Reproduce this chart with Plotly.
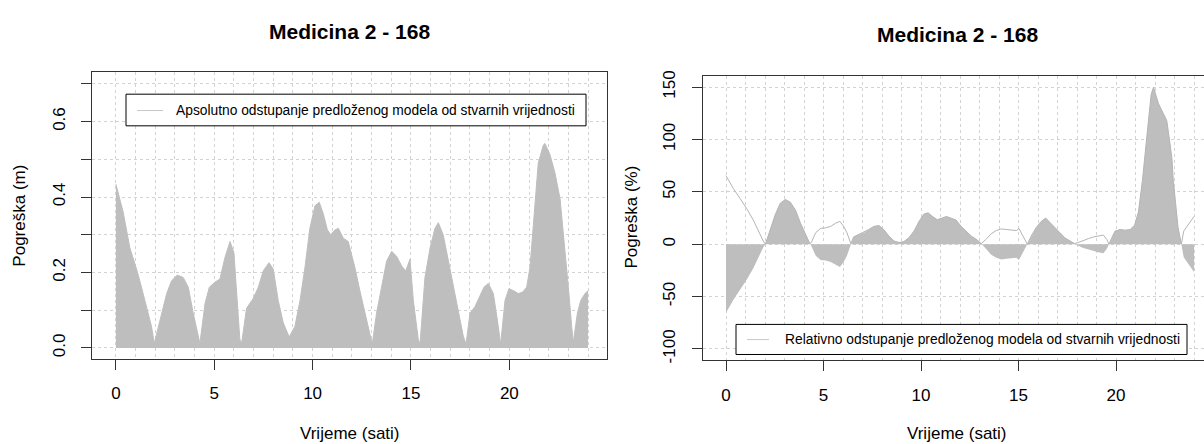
import plotly.graph_objects as go

W, H = 1204, 444

# ---------------- data ----------------
hours_abs = [0.0, 0.37, 0.71, 1.05, 1.3, 1.56, 1.81, 1.95, 2.24, 2.58, 2.83, 3.12, 3.42, 3.68,
             3.93, 4.19, 4.27, 4.53, 4.75, 5.03, 5.29, 5.54, 5.8, 6.0, 6.14, 6.3, 6.39, 6.64,
             6.98, 7.24, 7.49, 7.78, 8.0, 8.25, 8.51, 8.81, 9.1, 9.36, 9.61, 9.86, 10.12,
             10.34, 10.54, 10.75, 10.92, 11.14, 11.31, 11.56, 11.81, 12.15, 12.4, 12.66,
             12.92, 13.03, 13.25, 13.5, 13.76, 14.02, 14.27, 14.53, 14.73, 14.95, 15.12,
             15.37, 15.46, 15.71, 15.97, 16.22, 16.39, 16.64, 16.9, 17.15, 17.41, 17.66,
             17.8, 18.0, 18.25, 18.5, 18.71, 18.93, 19.19, 19.39, 19.56, 19.78, 19.98, 20.2,
             20.46, 20.68, 20.88, 21.05, 21.22, 21.47, 21.73, 21.81, 22.07, 22.32, 22.58,
             22.78, 23.0, 23.17, 23.25, 23.46, 23.63, 23.85, 24.0]
abs_err = [0.434, 0.36, 0.265, 0.209, 0.161, 0.109, 0.057, 0.012, 0.074, 0.144, 0.178, 0.193,
           0.187, 0.161, 0.092, 0.031, 0.012, 0.118, 0.161, 0.174, 0.183, 0.239, 0.282, 0.252,
           0.144, 0.023, 0.012, 0.105, 0.131, 0.161, 0.204, 0.226, 0.209, 0.126, 0.066, 0.029,
           0.057, 0.126, 0.213, 0.317, 0.377, 0.386, 0.356, 0.313, 0.300, 0.313, 0.317, 0.291,
           0.282, 0.213, 0.152, 0.092, 0.031, 0.010, 0.092, 0.161, 0.230, 0.256, 0.243, 0.217,
           0.204, 0.235, 0.126, 0.023, 0.010, 0.187, 0.265, 0.317, 0.332, 0.300, 0.230, 0.161,
           0.092, 0.031, 0.010, 0.092, 0.109, 0.135, 0.161, 0.171, 0.144, 0.074, 0.010, 0.126,
           0.157, 0.152, 0.144, 0.148, 0.161, 0.213, 0.334, 0.490, 0.538, 0.542, 0.512, 0.464,
           0.395, 0.291, 0.161, 0.057, 0.014, 0.092, 0.126, 0.144, 0.152]

hours_rel = [0.0, 0.38, 0.72, 1.06, 1.4, 1.66, 1.91, 2.02, 2.26, 2.52, 2.78, 3.04, 3.3, 3.56,
             3.82, 4.07, 4.3, 4.37, 4.6, 4.85, 5.11, 5.37, 5.62, 5.84, 6.03, 6.2, 6.4, 6.55,
             6.81, 7.07, 7.32, 7.58, 7.84, 8.09, 8.35, 8.61, 8.87, 9.12, 9.38, 9.64, 9.9,
             10.15, 10.36, 10.58, 10.83, 11.09, 11.3, 11.59, 11.8, 12.06, 12.31, 12.57, 12.83,
             13.09, 13.34, 13.6, 13.86, 14.12, 14.37, 14.63, 14.89, 15.02, 15.23, 15.45, 15.65,
             15.91, 16.17, 16.39, 16.6, 16.86, 17.12, 17.37, 17.63, 17.86, 18.06, 18.32, 18.58,
             18.84, 19.09, 19.35, 19.52, 19.64, 19.78, 19.95, 20.21, 20.47, 20.72, 20.95, 21.15,
             21.36, 21.58, 21.8, 21.92, 22.18, 22.43, 22.6, 22.76, 22.87, 22.93, 23.04, 23.18,
             23.35, 23.47, 23.64, 23.81, 24.0]
rel_err = [-65.4, -53, -43.6, -34, -23, -12.5, -3, 0, 12.5, 28, 39, 42.7, 40, 32.7, 20, 9.3, 0.6,
           -1.5, -11, -15, -15.6, -17, -20, -21.8, -17, -11, -0.6, 7, 9.3, 11, 14, 17, 17.8, 14,
           7.8, 3.1, 1.6, 2.5, 6.2, 12.5, 21.8, 28.7, 30, 26.5, 23.4, 25, 26.5, 24.5, 23, 17,
           12.5, 7.8, 4.7, 0.6, -4.7, -10, -13, -14.6, -14, -13.4, -13, -15, -7.8, 0, 7.8, 16,
           21.8, 25, 21, 15.6, 11, 6.2, 3.1, 0.6, -1.6, -3.7, -5.3, -6.9, -7.8, -8.7, -4.7, 0,
           6.2, 12.5, 14, 13.4, 14, 18, 31, 62, 103, 143, 149.7, 134, 124.6, 118, 97, 81, 62,
           43, 16, 0, -12.5, -17, -21.8, -26.5]
rel_abs = [abs(v) for v in rel_err]

title_text = "Medicina 2 - 168"
x_title = "Vrijeme (sati)"
y_title_abs = "Pogreška (m)"
y_title_rel = "Pogreška (%)"
legend_abs = "Apsolutno odstupanje predloženog modela od stvarnih vrijednosti"
legend_rel = "Relativno odstupanje predloženog modela od stvarnih vrijednosti"

x_ticks = [0, 5, 10, 15, 20]
x_grid = list(range(0, 25))
y_ticks_abs = [0.0, 0.1, 0.2, 0.3, 0.4, 0.5, 0.6, 0.7]
y_labels_abs = ["0.0", "", "0.2", "", "0.4", "", "0.6", ""]
y_ticks_rel = [-100, -50, 0, 50, 100, 150]
y_labels_rel = ["-100", "-50", "0", "50", "100", "150"]

# ---------------- style ----------------
FILL = "#BEBEBE"
GRID = "#D3D3D3"
AXIS = "#333333"
FONT = "Liberation Sans, Arial, sans-serif"


def fx(p):
    return p / W


def fy(p):
    return 1 - p / H


fig = go.Figure()

# left panel: absolute error
fig.add_trace(go.Scatter(x=hours_abs, y=abs_err, mode="lines", line=dict(width=0, color=FILL),
                         fill="tozeroy", fillcolor=FILL, xaxis="x", yaxis="y",
                         showlegend=False, hoverinfo="skip"))
fig.add_trace(go.Scatter(x=hours_abs, y=abs_err, mode="lines", line=dict(width=1, color=FILL),
                         xaxis="x", yaxis="y", showlegend=False))

# right panel: relative error
fig.add_trace(go.Scatter(x=hours_rel, y=rel_err, mode="lines", line=dict(width=0, color=FILL),
                         fill="tozeroy", fillcolor=FILL, xaxis="x2", yaxis="y2",
                         showlegend=False, hoverinfo="skip"))
fig.add_trace(go.Scatter(x=hours_rel, y=rel_abs, mode="lines", line=dict(width=1, color="#B4B4B4"),
                         xaxis="x2", yaxis="y2", showlegend=False))


def xaxis_cfg(domain, rng, anchor):
    return dict(domain=domain, range=rng, anchor=anchor, showline=True, linecolor=AXIS,
                linewidth=1, mirror=True, ticks="outside", ticklen=10, tickcolor=AXIS,
                tickwidth=1, tickvals=x_ticks, ticktext=[str(v) for v in x_ticks],
                tickfont=dict(size=17, color="#000", family=FONT), showgrid=True,
                gridcolor=GRID, griddash="dot", gridwidth=1, zeroline=False,
                ticklabelstandoff=9,
                minor=dict(tickvals=x_grid, showgrid=True, gridcolor=GRID, griddash="dot",
                           gridwidth=1, ticks=""))


def yaxis_cfg(domain, rng, anchor, vals, labels, mirror):
    return dict(domain=domain, range=rng, anchor=anchor, showline=True, linecolor=AXIS,
                linewidth=1, mirror=mirror, ticks="outside", ticklen=10, tickcolor=AXIS,
                tickwidth=1, tickvals=vals, ticktext=labels, tickangle=-90,
                tickfont=dict(size=17, color="#000", family=FONT), showgrid=True,
                gridcolor=GRID, griddash="dot", gridwidth=1, zeroline=False,
                ticklabelstandoff=10)


annotations = [
    dict(text=title_text, x=fx(349), y=fy(26), font=dict(size=21, family=FONT, color="#000", weight="bold")),
    dict(text=title_text, x=fx(957), y=fy(29.5), font=dict(size=21, family=FONT, color="#000", weight="bold")),
    dict(text=x_title, x=fx(349.5), y=fy(436), font=dict(size=17, family=FONT, color="#000")),
    dict(text=x_title, x=fx(957), y=fy(436), font=dict(size=17, family=FONT, color="#000")),
    dict(text=y_title_abs, x=fx(20), y=fy(214), textangle=-90, font=dict(size=17, family=FONT, color="#000")),
    dict(text=y_title_rel, x=fx(632), y=fy(216), textangle=-90, font=dict(size=17, family=FONT, color="#000")),
    dict(text=legend_abs, x=fx(174), y=fy(106.5), xanchor="left", font=dict(size=13.8, family=FONT, color="#000")),
    dict(text=legend_rel, x=fx(783), y=fy(340), xanchor="left", font=dict(size=13.8, family=FONT, color="#000")),
]
for a in annotations:
    a.setdefault("xanchor", "center")
    a.update(xref="paper", yref="paper", yanchor="middle", showarrow=False)

shapes = [
    dict(type="rect", xref="paper", yref="paper", x0=fx(126), x1=fx(586), y0=fy(90), y1=fy(122.3),
         line=dict(color="#000", width=1), fillcolor="white", layer="above"),
    dict(type="line", xref="paper", yref="paper", x0=fx(137), x1=fx(163), y0=fy(106.7), y1=fy(106.7),
         line=dict(color="#C8C8C8", width=1), layer="above"),
    dict(type="rect", xref="paper", yref="paper", x0=fx(736), x1=fx(1187), y0=fy(325), y1=fy(355.7),
         line=dict(color="#000", width=1), fillcolor="white", layer="above"),
    dict(type="line", xref="paper", yref="paper", x0=fx(747), x1=fx(769), y0=fy(340.5), y1=fy(340.5),
         line=dict(color="#C8C8C8", width=1), layer="above"),
]

fig.update_layout(
    width=W, height=H, autosize=False,
    margin=dict(l=0, r=0, t=0, b=0),
    paper_bgcolor="white", plot_bgcolor="white",
    showlegend=False,
    font=dict(family=FONT, color="#000"),
    xaxis=xaxis_cfg([fx(92.3), fx(606.7)], [-1.2, 24.95], "y"),
    yaxis=yaxis_cfg([fy(360), fy(67.7)], [-0.0286, 0.7306], "x", y_ticks_abs, y_labels_abs, True),
    xaxis2=xaxis_cfg([fx(703), 1.0], [-1.18, 24.51], "y2"),
    yaxis2=yaxis_cfg([fy(361.7), fy(71.7)], [-110.9, 160.3], "x2", y_ticks_rel, y_labels_rel, False),
    annotations=annotations,
    shapes=shapes,
)

fig.write_html("out.html", config={"displayModeBar": False},
               post_script="document.body.style.margin='0px';document.body.style.overflow='hidden';")
